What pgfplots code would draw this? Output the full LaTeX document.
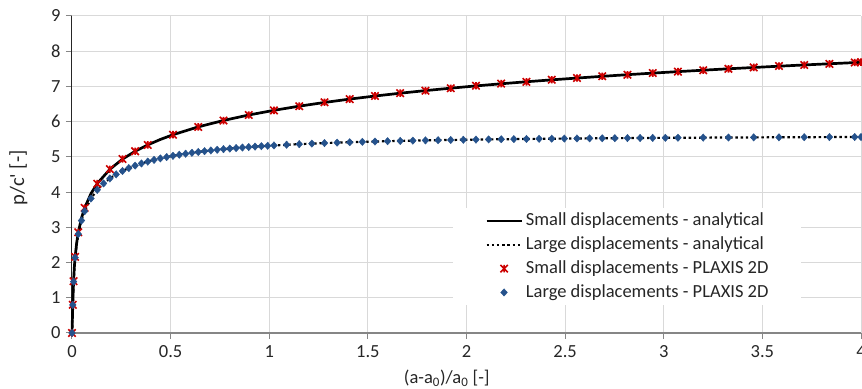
\documentclass[border=0pt]{standalone}
\usepackage{fontspec}
\setmainfont{Carlito}
\usepackage{pgfplots}
\pgfplotsset{compat=1.18}
\definecolor{gridc}{HTML}{D9D9D9}
\definecolor{axc}{HTML}{868686}
\definecolor{txt}{HTML}{262626}
\definecolor{redm}{HTML}{CC0000}
\definecolor{bluem}{HTML}{25528C}
\newcommand{\fs}{\fontsize{18.5}{22}\selectfont}
\pgfdeclareplotmark{xstar}{%
  \pgfpathmoveto{\pgfqpoint{-\pgfplotmarksize}{-\pgfplotmarksize}}%
  \pgfpathlineto{\pgfqpoint{\pgfplotmarksize}{\pgfplotmarksize}}%
  \pgfpathmoveto{\pgfqpoint{-\pgfplotmarksize}{\pgfplotmarksize}}%
  \pgfpathlineto{\pgfqpoint{\pgfplotmarksize}{-\pgfplotmarksize}}%
  \pgfpathmoveto{\pgfqpoint{0pt}{-\pgfplotmarksize}}%
  \pgfpathlineto{\pgfqpoint{0pt}{\pgfplotmarksize}}%
  \pgfusepathqstroke}

\pgfplotstableread{
x y
0 0
0.005 1.000
0.008 1.470
0.012 1.876
0.016 2.163
0.024 2.569
0.032 2.856
0.048 3.262
0.064 3.549
0.096 3.955
0.128 4.243
0.192 4.648
0.256 4.936
0.320 5.159
0.384 5.341
0.448 5.495
0.512 5.629
0.640 5.852
0.768 6.034
0.896 6.189
1.024 6.322
1.152 6.440
1.280 6.545
1.408 6.641
1.536 6.728
1.664 6.808
1.792 6.882
1.920 6.951
2.048 7.015
2.176 7.076
2.304 7.133
2.432 7.187
2.560 7.238
2.688 7.287
2.816 7.334
2.944 7.378
3.072 7.421
3.200 7.461
3.328 7.501
3.456 7.538
3.584 7.575
3.712 7.610
3.840 7.644
3.968 7.677
4.000 7.685
}\smallan

\pgfplotstableread{
x y
0 0
0.005 0.993
0.008 1.458
0.012 1.858
0.016 2.139
0.024 2.533
0.032 2.809
0.048 3.192
0.064 3.457
0.096 3.818
0.128 4.064
0.160 4.246
0.192 4.388
0.224 4.504
0.256 4.600
0.288 4.682
0.320 4.752
0.352 4.813
0.384 4.867
0.416 4.915
0.448 4.957
0.480 4.995
0.512 5.030
0.576 5.090
0.640 5.140
0.704 5.183
0.768 5.220
0.832 5.251
0.896 5.279
0.960 5.304
1.024 5.325
1.152 5.362
1.280 5.392
1.408 5.416
1.536 5.436
1.664 5.453
1.792 5.468
1.920 5.480
2.048 5.491
2.240 5.505
2.432 5.516
2.624 5.526
2.816 5.534
3.072 5.543
3.328 5.550
3.584 5.556
3.840 5.562
4.000 5.564
}\largean

\pgfplotstableread{
x y
0 0
0.004 0.80
0.008 1.47
0.016 2.16
0.032 2.86
0.064 3.55
0.128 4.24
0.192 4.65
0.256 4.94
0.320 5.16
0.384 5.34
0.512 5.63
0.640 5.85
0.768 6.03
0.896 6.19
1.024 6.32
1.152 6.44
1.280 6.55
1.408 6.64
1.536 6.73
1.664 6.81
1.792 6.88
1.920 6.95
2.048 7.02
2.176 7.08
2.304 7.13
2.432 7.19
2.560 7.24
2.688 7.29
2.816 7.33
2.944 7.38
3.072 7.42
3.200 7.46
3.328 7.50
3.456 7.54
3.584 7.58
3.712 7.61
3.840 7.64
3.968 7.68
4.000 7.69
}\smallpl

\pgfplotstableread{
x y
0 0
0.004 0.797
0.008 1.458
0.016 2.139
0.032 2.809
0.048 3.192
0.064 3.457
0.096 3.818
0.128 4.064
0.160 4.246
0.192 4.388
0.224 4.504
0.256 4.600
0.288 4.682
0.320 4.752
0.352 4.813
0.384 4.867
0.416 4.915
0.448 4.957
0.480 4.995
0.512 5.030
0.544 5.061
0.576 5.090
0.608 5.116
0.640 5.140
0.672 5.162
0.704 5.183
0.736 5.202
0.768 5.220
0.800 5.236
0.832 5.251
0.864 5.266
0.896 5.279
0.928 5.292
0.960 5.304
0.992 5.315
1.024 5.325
1.088 5.345
1.152 5.362
1.216 5.377
1.280 5.392
1.344 5.404
1.408 5.416
1.472 5.427
1.536 5.436
1.600 5.445
1.664 5.453
1.728 5.461
1.792 5.468
1.856 5.474
1.920 5.480
1.984 5.486
2.048 5.491
2.112 5.496
2.176 5.501
2.240 5.505
2.304 5.509
2.368 5.513
2.432 5.516
2.496 5.520
2.560 5.523
2.624 5.526
2.688 5.529
2.752 5.531
2.816 5.534
2.880 5.536
2.944 5.539
3.008 5.541
3.072 5.543
3.200 5.547
3.328 5.550
3.456 5.554
3.584 5.556
3.712 5.559
3.840 5.562
3.968 5.564
4.000 5.564
}\largepl

\begin{document}
\begin{tikzpicture}
\begin{axis}[
  width=789pt, height=317pt, scale only axis,
  xmin=0, xmax=4, ymin=0, ymax=9,
  xtick={0,0.5,1,1.5,2,2.5,3,3.5,4},
  xticklabels={0,0.5,1,1.5,2,2.5,3,3.5,4},
  ytick={0,1,2,3,4,5,6,7,8,9},
  yticklabels={0,1,2,3,4,5,6,7,8,9},
  grid=major, grid style={gridc, line width=1pt},
  axis x line*=bottom, axis y line*=left,
  x axis line style={axc, line width=1.2pt},
  y axis line style={black!85, line width=1pt},
  tick align=outside, major tick length=6pt,
  xtick style={axc, line width=1pt},
  ytick style={axc, line width=1pt},
  tick label style={font=\fs, text=txt},
  yticklabel style={xshift=-2pt},
  xticklabel style={yshift=-3pt},
  xlabel={(a-a\textsubscript{0})/a\textsubscript{0} [-]},
  ylabel={p/c\textquotesingle\ [-]},
  label style={text=txt},
  xlabel style={font=\fs, at={(axis description cs:0.475,-0.142)}, anchor=center},
  ylabel style={font=\fontsize{20.5}{24}\selectfont, at={(axis description cs:-0.068,0.49)}, anchor=center},
  clip=false,
  legend image code/.code={\draw[mark repeat=2,mark phase=2,#1] plot coordinates {(0pt,0pt) (17.5pt,0pt) (35pt,0pt)};},
  legend cell align=left,
  legend style={at={(rel axis cs:0.4829,0.394)}, anchor=north west,
    draw=none, fill=white, inner xsep=32pt, inner ysep=3.5pt,
    font=\fs, text=txt, row sep=5.3pt,
    nodes={inner sep=0pt, text height=14pt, text depth=4.5pt},
    /tikz/every odd column/.append style={column sep=3pt}},
]
\addplot[black, line width=2.7pt, no markers] table {\smallan};
\addlegendentry{Small displacements - analytical}
\addplot[black, line width=2.2pt, dash pattern=on 2.4pt off 2.8pt, no markers] table {\largean};
\addlegendentry{Large displacements - analytical}
\addplot[only marks, mark=xstar, mark size=3.7pt, mark options={draw=redm, line width=1.6pt}] table {\smallpl};
\addlegendentry{Small displacements - PLAXIS 2D}
\addplot[only marks, mark=diamond*, mark size=3.7pt, mark options={draw=bluem, fill=bluem, xscale=1.2}] table {\largepl};
\addlegendentry{Large displacements - PLAXIS 2D}
\end{axis}
\pgfresetboundingbox
\path ([shift={(-72pt,-56pt)}]current axis.south west) rectangle ([shift={(1pt,16pt)}]current axis.north east);
\end{tikzpicture}
\end{document}
